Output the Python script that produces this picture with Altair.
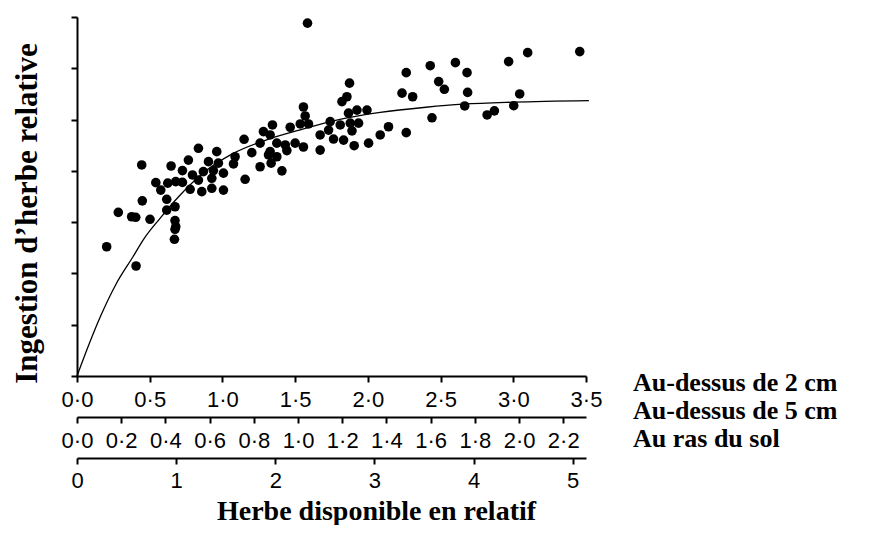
import altair as alt
import pandas as pd

# Scatter: relative herbage mass (scale "Au-dessus de 2 cm") vs relative intake
herbe = [0.445, 0.647, 0.766, 0.725, 0.794, 0.542, 0.624, 0.679, 0.725, 0.576, 0.778, 0.449, 0.617,
         0.674, 0.617, 0.284, 0.376, 0.404, 0.502, 0.674, 0.679, 0.674, 0.670, 0.204, 0.406,
         1.557, 1.569, 1.535, 1.592, 1.466, 1.344, 1.282, 1.328, 1.149, 1.259, 1.374, 1.432, 1.500,
         1.557, 1.202, 1.328, 1.317, 1.374, 1.443, 0.835, 0.961, 1.087, 0.904, 0.972, 1.076, 1.259,
         1.335, 1.409, 0.869, 0.938, 1.007, 0.927, 1.156, 0.835, 0.927, 1.007, 0.858,
         2.264, 1.874, 1.856, 1.822, 2.235, 2.308, 1.925, 1.994, 1.867, 1.741, 1.810, 1.879, 1.936,
         1.730, 1.891, 1.672, 1.764, 1.833, 2.142, 2.085, 2.264, 1.672, 1.906, 2.005,
         3.457, 3.099, 2.968, 2.429, 2.602, 2.682, 2.487, 2.526, 2.686, 3.044, 2.666, 3.003, 2.820,
         2.870, 2.441, 1.585]
ingestion = [0.823, 0.819, 0.842, 0.801, 0.784, 0.754, 0.752, 0.758, 0.755, 0.725, 0.728, 0.683, 0.689,
             0.660, 0.647, 0.638, 0.621, 0.619, 0.611, 0.606, 0.582, 0.572, 0.533, 0.504, 0.429,
             1.049, 1.014, 0.983, 0.983, 0.970, 0.979, 0.953, 0.940, 0.923, 0.908, 0.908, 0.901, 0.908,
             0.893, 0.871, 0.875, 0.862, 0.855, 0.879, 0.888, 0.875, 0.855, 0.836, 0.830, 0.827, 0.816,
             0.830, 0.800, 0.797, 0.801, 0.791, 0.771, 0.767, 0.764, 0.732, 0.725, 0.719,
             1.183, 1.142, 1.089, 1.070, 1.103, 1.089, 1.037, 1.037, 1.025, 0.992, 0.979, 0.986, 0.986,
             0.959, 0.956, 0.940, 0.924, 0.920, 0.972, 0.940, 0.949, 0.881, 0.898, 0.908,
             1.265, 1.261, 1.226, 1.210, 1.222, 1.183, 1.148, 1.118, 1.106, 1.100, 1.053, 1.054, 1.018,
             1.034, 1.007, 1.376]

# Fitted curve
curve_x = [0.0, 0.08, 0.158, 0.27, 0.385, 0.46, 0.571, 0.70, 0.847, 1.074, 1.308, 1.535, 1.80,
           2.085, 2.40, 2.657, 3.0, 3.52]
curve_y = [0.0, 0.12, 0.228, 0.36, 0.465, 0.535, 0.615, 0.70, 0.782, 0.868, 0.922, 0.960, 1.000,
           1.028, 1.048, 1.060, 1.068, 1.074]

# Axis ticks
ticks_2cm = [0.0, 0.5, 1.0, 1.5, 2.0, 2.5, 3.0, 3.5]
ticks_5cm = [0.0, 0.2, 0.4, 0.6, 0.8, 1.0, 1.2, 1.4, 1.6, 1.8, 2.0, 2.2]
ticks_sol = [0, 1, 2, 3, 4, 5]
y_ticks = [0.0, 0.2, 0.4, 0.6, 0.8, 1.0, 1.2, 1.4]

scale_labels = ["Au-dessus de 2 cm", "Au-dessus de 5 cm", "Au ras du sol"]
x_title = "Herbe disponible en relatif"
y_title = "Ingestion d\u2019herbe relative"

SANS = "Liberation Sans"
SERIF = "Liberation Serif"

pts = pd.DataFrame({"x": herbe, "y": ingestion})
crv = pd.DataFrame({"x": curve_x, "y": curve_y})

common_axis = dict(orient="bottom", grid=False, domainColor="black", domainWidth=2,
                   tickColor="black", tickWidth=2, tickSize=6, labelFont=SANS,
                   labelColor="black", labelFlush=False, labelOverlap=False)

y_enc = alt.Y("y:Q", scale=alt.Scale(domain=[0, 1.4], nice=False),
              axis=alt.Axis(values=y_ticks, labels=False, grid=False, domainColor="black",
                            domainWidth=2, tickColor="black", tickWidth=2, tickSize=6,
                            title=y_title, titleFont=SERIF, titleFontSize=31,
                            titleFontWeight="bold", titleColor="black", titlePadding=27,
                            titleY=196))

scatter = alt.Chart(pts).mark_circle(color="black", opacity=1, size=92).encode(
    x=alt.X("x:Q", scale=alt.Scale(domain=[0, 3.5], nice=False),
            axis=alt.Axis(values=ticks_2cm, title=None, labelFontSize=22, labelPadding=7,
                          offset=0,
                          labelExpr="replace(format(datum.value, '.1f'), '.', '\u00b7')",
                          **common_axis)),
    y=y_enc,
)

curve = alt.Chart(crv).mark_line(color="black", strokeWidth=1.3, interpolate="monotone").encode(
    x=alt.X("x:Q", scale=alt.Scale(domain=[0, 3.5], nice=False), axis=None),
    y=alt.Y("y:Q", scale=alt.Scale(domain=[0, 1.4], nice=False)),
)

axis5 = alt.Chart(pd.DataFrame({"v": ticks_5cm})).mark_point(opacity=0).encode(
    x=alt.X("v:Q", scale=alt.Scale(domain=[0, 2.303], nice=False),
            axis=alt.Axis(values=ticks_5cm, title=None, labelFontSize=22, labelPadding=7,
                          offset=41,
                          labelExpr="replace(format(datum.value, '.1f'), '.', '\u00b7')",
                          **common_axis)),
    y=alt.value(0),
)

axis_sol = alt.Chart(pd.DataFrame({"v": ticks_sol})).mark_point(opacity=0).encode(
    x=alt.X("v:Q", scale=alt.Scale(domain=[0, 5.134], nice=False),
            axis=alt.Axis(values=ticks_sol, labelFontSize=22, labelPadding=6, offset=82,
                          format="d",
                          title=x_title, titleFont=SERIF, titleFontSize=28,
                          titleFontWeight="bold", titleColor="black", titleX=299, titleY=61,
                          titleBaseline="alphabetic",
                          **common_axis)),
    y=alt.value(0),
)

text_y = [366, 394, 422]
texts = [
    alt.Chart(pd.DataFrame({"t": [lab]})).mark_text(
        align="left", baseline="middle", font=SERIF, fontSize=26, fontWeight="bold",
        color="black").encode(text="t:N", x=alt.value(556), y=alt.value(ty))
    for lab, ty in zip(scale_labels, text_y)
]

chart = alt.layer(scatter, curve, axis5, axis_sol, *texts).resolve_scale(
    x="independent").resolve_axis(x="independent").properties(
    width=509, height=359,
    autosize=alt.AutoSizeParams(type="none"),
    padding={"left": 69, "top": 9, "right": 276, "bottom": 149},
).configure_view(stroke=None)

chart.save("out.html", embed_options={"renderer": "svg", "actions": False})
